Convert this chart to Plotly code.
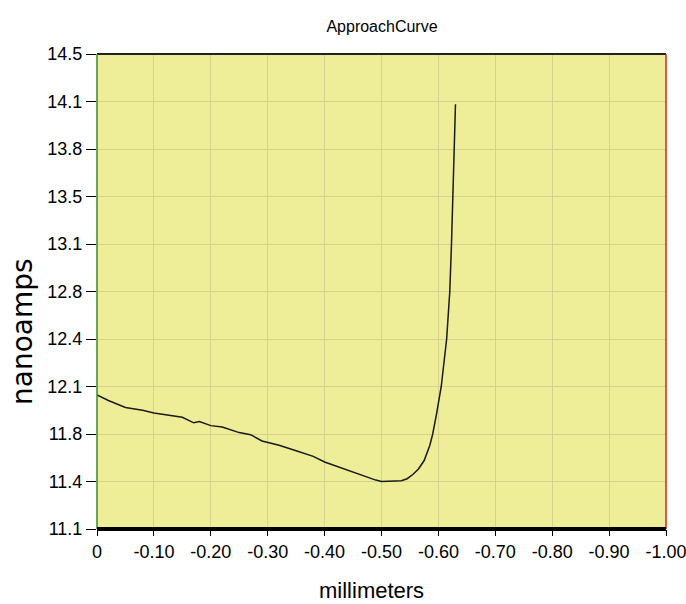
import plotly.graph_objects as go
import numpy as np

x_mm = [0, -0.02, -0.05, -0.08, -0.10, -0.13, -0.15, -0.17, -0.18, -0.20, -0.22, -0.25,
        -0.27, -0.29, -0.30, -0.32, -0.35, -0.38, -0.40, -0.42, -0.44, -0.45, -0.47, -0.49,
        -0.50, -0.52, -0.535, -0.545, -0.555, -0.565, -0.575, -0.585, -0.59, -0.597, -0.605,
        -0.6145, -0.620, -0.623, -0.625, -0.627, -0.630]
y_na = [12.06, 12.02, 11.97, 11.95, 11.93, 11.91, 11.90, 11.86, 11.87, 11.84, 11.83, 11.79,
        11.775, 11.73, 11.72, 11.70, 11.66, 11.62, 11.58, 11.55, 11.52, 11.505, 11.48, 11.45,
        11.44, 11.44, 11.445, 11.46, 11.49, 11.53, 11.59, 11.70, 11.78, 11.93, 12.12,
        12.46, 12.80, 13.14, 13.48, 13.82, 14.14]

x_tickvals = [0, -0.1, -0.2, -0.3, -0.4, -0.5, -0.6, -0.7, -0.8, -0.9, -1.0]
x_ticktext = ["0", "-0.10", "-0.20", "-0.30", "-0.40", "-0.50", "-0.60", "-0.70", "-0.80", "-0.90", "-1.00"]
y_tickvals = list(np.linspace(11.1, 14.5, 11))
y_ticktext = ["11.1", "11.4", "11.8", "12.1", "12.4", "12.8", "13.1", "13.5", "13.8", "14.1", "14.5"]

NARROW = "Liberation Sans Narrow, Arial Narrow, Liberation Sans, sans-serif"

fig = go.Figure()
fig.add_trace(go.Scatter(x=x_mm, y=y_na, mode="lines",
                         line=dict(color="#1a1a1a", width=1.5), showlegend=False))

grid = "#D6D28E"
fig.update_layout(
    width=686, height=604,
    margin=dict(l=97, r=20, t=54, b=75, autoexpand=False),
    paper_bgcolor="white",
    plot_bgcolor="#EFEE98",
    title=dict(text="ApproachCurve", x=382/686, xref="container", xanchor="center",
               y=1 - 26/604, yref="container", yanchor="middle",
               font=dict(family=NARROW, size=16, color="black")),
    xaxis=dict(range=[0, -1], tickvals=x_tickvals, ticktext=x_ticktext,
               showgrid=True, gridcolor=grid, gridwidth=1, zeroline=False,
               ticks="outside", ticklen=6, tickcolor="black", tickwidth=1,
               tickfont=dict(family=NARROW, size=18, color="black"),
               ticklabeloverflow="allow", automargin=False,
               showline=False),
    yaxis=dict(range=[11.1, 14.5], tickvals=y_tickvals, ticktext=y_ticktext,
               showgrid=True, gridcolor=grid, gridwidth=1, zeroline=False,
               ticks="outside", ticklen=10, tickcolor="black", tickwidth=1,
               tickfont=dict(family=NARROW, size=18, color="black"),
               ticklabeloverflow="allow", automargin=False,
               showline=False),
    shapes=[
        dict(type="line", xref="paper", yref="paper", x0=0, x1=1, y0=1, y1=1,
             line=dict(color="#222222", width=2)),
        dict(type="line", xref="paper", yref="paper", x0=0, x1=0, y0=0, y1=1,
             line=dict(color="#3A8A2A", width=1.5)),
        dict(type="line", xref="paper", yref="paper", x0=1, x1=1, y0=0, y1=1,
             line=dict(color="#CC2A1A", width=1.5)),
        dict(type="line", xref="paper", yref="paper", x0=0, x1=1, y0=0, y1=0,
             line=dict(color="black", width=4)),
    ],
    annotations=[
        dict(text="millimeters", xref="paper", yref="paper", x=(371-97)/569, y=(529-590)/475,
             xanchor="center", yanchor="middle", showarrow=False,
             font=dict(family=NARROW, size=22, color="black")),
        dict(text="nanoamps", xref="paper", yref="paper", x=(22-97)/569, y=(529-332)/475,
             xanchor="center", yanchor="middle", showarrow=False, textangle=-90,
             font=dict(family="DejaVu Sans, sans-serif", size=28, color="black")),
    ],
)

fig.write_html("out.html")
